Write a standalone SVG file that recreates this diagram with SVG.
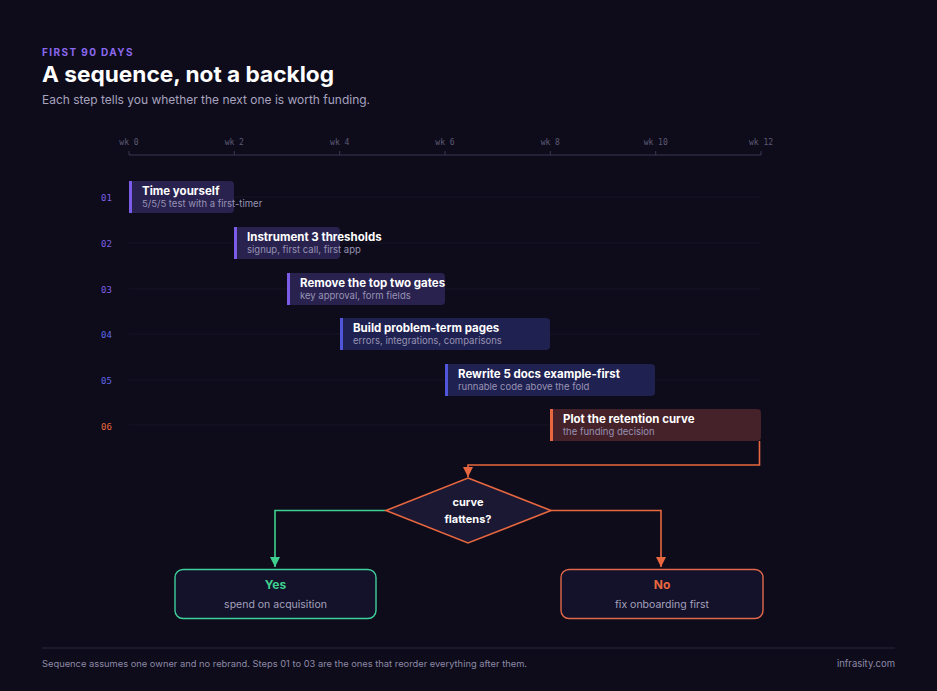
<svg xmlns="http://www.w3.org/2000/svg" width="937" height="691" viewBox="0 0 937 691">
<defs>
<style>
.sans{font-family:Inter,"Noto Sans","Liberation Sans",sans-serif}
.mono{font-family:"DejaVu Sans Mono","Liberation Mono",monospace}
.wk{font-size:8px;fill:#5d5a74}
.rn{font-size:9px}
.bt{font-size:11.5px;font-weight:700;fill:#ffffff}
.bs{font-size:9.5px;fill:#9893b3}
.grid{stroke:#161427;stroke-width:1}
.tick{stroke:#3a3752;stroke-width:1}
</style>
<marker id="ao" viewBox="0 0 10 10" refX="5" refY="10" markerWidth="10" markerHeight="10" markerUnits="userSpaceOnUse"><path d="M0,0 L10,0 L5,10 Z" fill="#e8673f"/></marker>
<marker id="ag" viewBox="0 0 10 10" refX="5" refY="10" markerWidth="10" markerHeight="10" markerUnits="userSpaceOnUse"><path d="M0,0 L10,0 L5,10 Z" fill="#3fd08f"/></marker>
</defs>
<rect width="937" height="691" fill="#0e0c1b"/>

<g id="header" class="sans">
<text x="42" y="56" font-size="10" font-weight="700" fill="#8a68ee" letter-spacing="1.4">FIRST 90 DAYS</text>
<text x="42" y="82" font-size="22" font-weight="700" fill="#ffffff" textLength="292" lengthAdjust="spacingAndGlyphs">A sequence, not a backlog</text>
<text x="42" y="104" font-size="12" fill="#a7a3bf" textLength="328" lengthAdjust="spacingAndGlyphs">Each step tells you whether the next one is worth funding.</text>
</g>

<g id="axis">
<line x1="129" y1="155" x2="761" y2="155" class="tick"/>
<g class="tick">
<line x1="129" y1="151" x2="129" y2="155"/><line x1="234.3" y1="151" x2="234.3" y2="155"/><line x1="339.7" y1="151" x2="339.7" y2="155"/><line x1="445" y1="151" x2="445" y2="155"/><line x1="550.3" y1="151" x2="550.3" y2="155"/><line x1="655.7" y1="151" x2="655.7" y2="155"/><line x1="761" y1="151" x2="761" y2="155"/>
</g>
<g class="mono wk" text-anchor="middle">
<text x="129" y="145">wk 0</text><text x="234.3" y="145">wk 2</text><text x="339.7" y="145">wk 4</text><text x="445" y="145">wk 6</text><text x="550.3" y="145">wk 8</text><text x="655.7" y="145">wk 10</text><text x="761" y="145">wk 12</text>
</g>
<g class="grid">
<line x1="129" y1="197" x2="761" y2="197"/><line x1="129" y1="243" x2="761" y2="243"/><line x1="129" y1="289" x2="761" y2="289"/><line x1="129" y1="334" x2="761" y2="334"/><line x1="129" y1="380" x2="761" y2="380"/><line x1="129" y1="425" x2="761" y2="425"/>
</g>
</g>

<g id="step01">
<text x="101" y="201" class="mono rn" fill="#7d5fe6">01</text>
<rect x="129" y="181" width="105" height="32" rx="4" fill="#29224f"/>
<rect x="129" y="181" width="3" height="32" fill="#7b5ce8"/>
<text x="142" y="194.5" class="sans bt">Time yourself</text>
<text x="142" y="207" class="sans bs">5/5/5 test with a first-timer</text>
</g>
<g id="step02">
<text x="101" y="247" class="mono rn" fill="#7d5fe6">02</text>
<rect x="234" y="227" width="106" height="32" rx="4" fill="#29224f"/>
<rect x="234" y="227" width="3" height="32" fill="#7b5ce8"/>
<text x="247" y="240.5" class="sans bt">Instrument 3 thresholds</text>
<text x="247" y="253" class="sans bs">signup, first call, first app</text>
</g>
<g id="step03">
<text x="101" y="293" class="mono rn" fill="#7d5fe6">03</text>
<rect x="287" y="273" width="158" height="32" rx="4" fill="#29224f"/>
<rect x="287" y="273" width="3" height="32" fill="#7b5ce8"/>
<text x="300" y="286.5" class="sans bt">Remove the top two gates</text>
<text x="300" y="299" class="sans bs">key approval, form fields</text>
</g>
<g id="step04">
<text x="101" y="338" class="mono rn" fill="#5f66e8">04</text>
<rect x="340" y="318" width="210" height="32" rx="4" fill="#1f2150"/>
<rect x="340" y="318" width="3" height="32" fill="#5056da"/>
<text x="353" y="331.5" class="sans bt">Build problem-term pages</text>
<text x="353" y="344" class="sans bs">errors, integrations, comparisons</text>
</g>
<g id="step05">
<text x="101" y="384" class="mono rn" fill="#5f66e8">05</text>
<rect x="445" y="364" width="210" height="32" rx="4" fill="#1f2150"/>
<rect x="445" y="364" width="3" height="32" fill="#5056da"/>
<text x="458" y="377.5" class="sans bt">Rewrite 5 docs example-first</text>
<text x="458" y="390" class="sans bs">runnable code above the fold</text>
</g>
<g id="step06">
<text x="101" y="430" class="mono rn" fill="#e8673f">06</text>
<rect x="550" y="409" width="211" height="32" rx="4" fill="#45212a"/>
<rect x="550" y="409" width="3" height="32" fill="#e8673f"/>
<text x="563" y="422.5" class="sans bt">Plot the retention curve</text>
<text x="563" y="435" class="sans bs">the funding decision</text>
</g>

<g id="connectors" fill="none" stroke-width="1.6">
<path d="M759.5,441 V465 H468 V477" stroke="#e8673f" marker-end="url(#ao)"/>
<path d="M386,510.5 H275 V567" stroke="#3fd08f" marker-end="url(#ag)"/>
<path d="M551,510.5 H661 V567" stroke="#e8673f" marker-end="url(#ao)"/>
</g>

<g id="decision">
<polygon points="468,478 551,510.5 468,543 386,510.5" fill="#1a1833" stroke="#e8673f" stroke-width="1.6"/>
<text x="468" y="506" text-anchor="middle" class="sans" font-size="11" font-weight="700" fill="#ffffff">curve</text>
<text x="468" y="523" text-anchor="middle" class="sans" font-size="11" font-weight="700" fill="#ffffff">flattens?</text>
</g>

<g id="yes">
<rect x="175" y="569.5" width="201" height="49" rx="8" fill="#13122a" stroke="#3fcf9a" stroke-width="1.4"/>
<text x="275.5" y="589" text-anchor="middle" class="sans" font-size="12" font-weight="700" fill="#3fd08f">Yes</text>
<text x="275.5" y="608" text-anchor="middle" class="sans" font-size="10.5" fill="#a5a1bd">spend on acquisition</text>
</g>
<g id="no">
<rect x="561" y="569.5" width="202" height="49" rx="8" fill="#13122a" stroke="#e0684a" stroke-width="1.4"/>
<text x="662" y="589" text-anchor="middle" class="sans" font-size="12" font-weight="700" fill="#e8673f">No</text>
<text x="662" y="608" text-anchor="middle" class="sans" font-size="10.5" fill="#a5a1bd">fix onboarding first</text>
</g>

<g id="footer" class="sans">
<line x1="42" y1="648" x2="895" y2="648" stroke="#2a2740" stroke-width="1"/>
<text x="42" y="667" font-size="9" fill="#8d89a5" textLength="485" lengthAdjust="spacingAndGlyphs">Sequence assumes one owner and no rebrand. Steps 01 to 03 are the ones that reorder everything after them.</text>
<text x="895" y="667" font-size="9.5" fill="#8d89a5" text-anchor="end">infrasity.com</text>
</g>
</svg>
